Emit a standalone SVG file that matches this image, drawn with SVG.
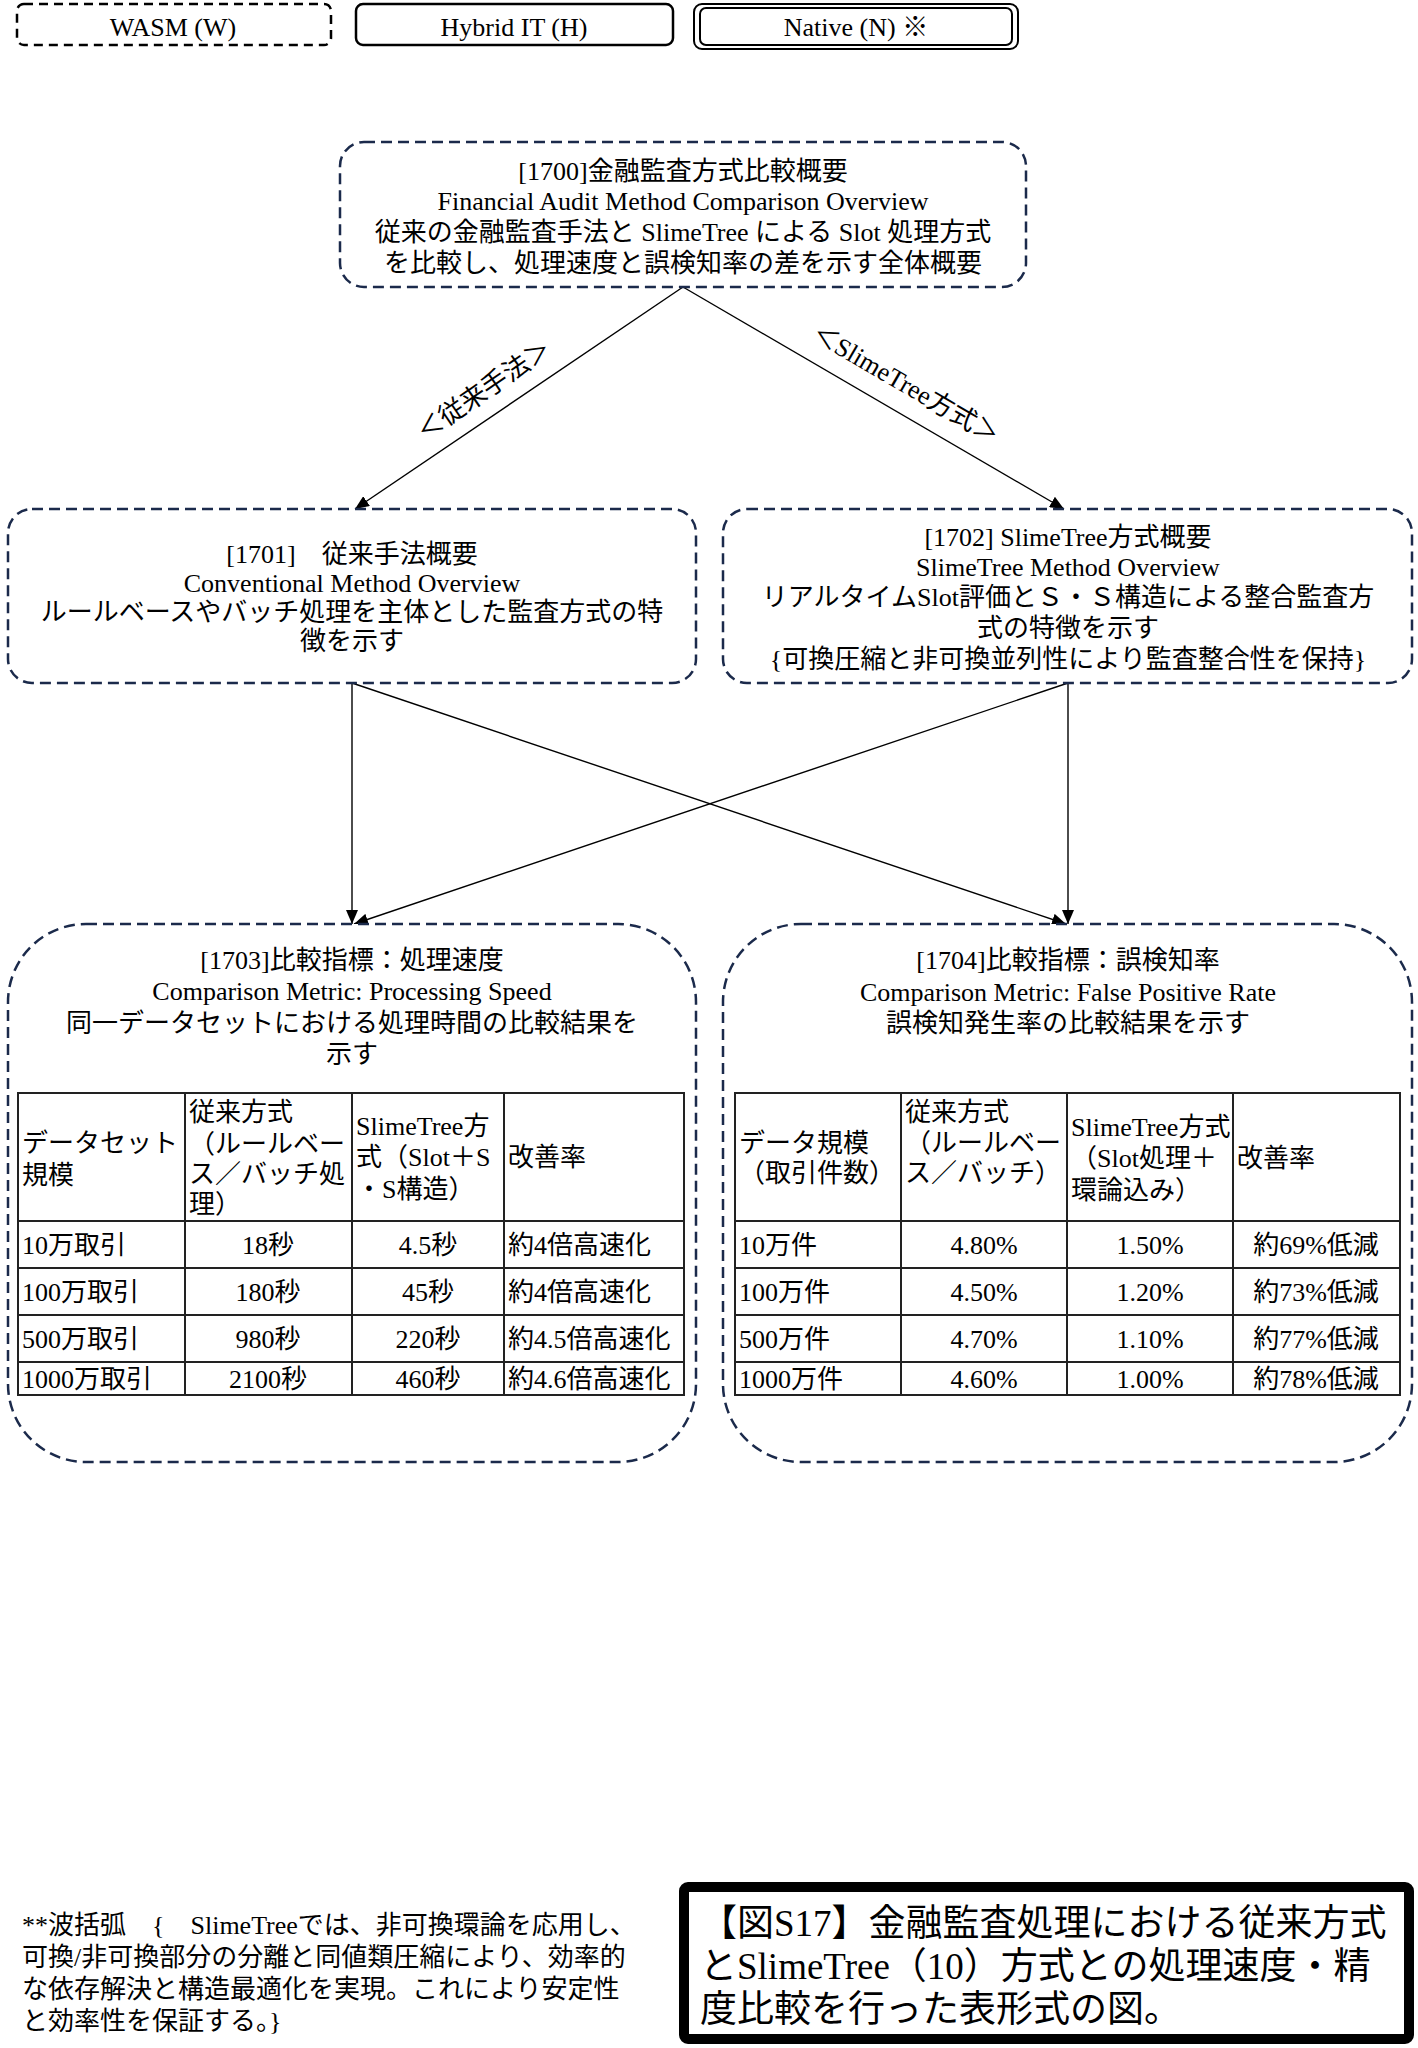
<svg xmlns="http://www.w3.org/2000/svg" width="1418" height="2048" viewBox="0 0 1418 2048">
<style>
.t{font-family:"Liberation Serif","Noto Sans CJK JP",serif;font-size:26px;fill:#000}
.c{text-anchor:middle}
.node{fill:#fff;stroke:#1b2a4b;stroke-width:2.5;stroke-dasharray:11 6}
.conn{stroke:#000;stroke-width:1.4;fill:none;marker-end:url(#arr)}
.tbl{stroke:#222;stroke-width:2;fill:none}
.cap{font-size:37px}
</style>
<defs>
<marker id="arr" markerUnits="userSpaceOnUse" markerWidth="14" markerHeight="12" viewBox="0 0 14 12" refX="14" refY="6" orient="auto">
<path d="M0,0 L14,6 L0,12 z" fill="#000"/>
</marker>
</defs>
<rect width="1418" height="2048" fill="#fff"/>

<g id="legend">
<rect x="17" y="4" width="314" height="41" rx="7" fill="#fff" stroke="#000" stroke-width="2.5" stroke-dasharray="9 6"/>
<text class="t c" x="173" y="36">WASM (W)</text>
<rect x="356" y="4" width="317" height="41" rx="7" fill="#fff" stroke="#000" stroke-width="2.5"/>
<text class="t c" x="514" y="36">Hybrid IT (H)</text>
<rect x="694" y="4" width="324" height="45" rx="8" fill="#fff" stroke="#000" stroke-width="2"/>
<rect x="700" y="8" width="312" height="37" rx="6" fill="none" stroke="#000" stroke-width="2"/>
<text class="t c" x="856" y="36">Native (N) ※</text>
</g>

<g id="connectors">
<line class="conn" x1="683" y1="287" x2="355" y2="509"/>
<line class="conn" x1="683" y1="287" x2="1064" y2="509"/>
<line class="conn" x1="352" y1="683" x2="352" y2="924"/>
<line class="conn" x1="352" y1="683" x2="1066" y2="924"/>
<line class="conn" x1="1068" y1="683" x2="1068" y2="924"/>
<line class="conn" x1="1068" y1="683" x2="354" y2="924"/>
<text class="t c" transform="translate(484,390) rotate(-34.5)" y="9">＜従来手法＞</text>
<text class="t c" transform="translate(906,384) rotate(30.2)" y="9">＜SlimeTree方式＞</text>
</g>

<g id="n1700">
<rect class="node" x="340" y="142" width="686" height="145" rx="24"/>
<text class="t c" x="683" y="180">[1700]金融監査方式比較概要</text>
<text class="t c" x="683" y="210">Financial Audit Method Comparison Overview</text>
<text class="t c" x="683" y="241">従来の金融監査手法と SlimeTree による Slot 処理方式</text>
<text class="t c" x="683" y="272">を比較し、処理速度と誤検知率の差を示す全体概要</text>
</g>

<g id="n1701">
<rect class="node" x="8" y="509" width="688" height="174" rx="24"/>
<text class="t c" x="352" y="563">[1701]　従来手法概要</text>
<text class="t c" x="352" y="592">Conventional Method Overview</text>
<text class="t c" x="352" y="621">ルールベースやバッチ処理を主体とした監査方式の特</text>
<text class="t c" x="352" y="650">徴を示す</text>
</g>

<g id="n1702">
<rect class="node" x="723" y="509" width="689" height="174" rx="24"/>
<text class="t c" x="1068" y="546">[1702] SlimeTree方式概要</text>
<text class="t c" x="1068" y="576">SlimeTree Method Overview</text>
<text class="t c" x="1068" y="606">リアルタイムSlot評価とＳ・Ｓ構造による整合監査方</text>
<text class="t c" x="1068" y="637">式の特徴を示す</text>
<text class="t c" x="1068" y="668">{可換圧縮と非可換並列性により監査整合性を保持}</text>
</g>

<g id="n1703">
<rect class="node" x="8" y="924" width="688" height="538" rx="78"/>
<text class="t c" x="352" y="969">[1703]比較指標：処理速度</text>
<text class="t c" x="352" y="1000">Comparison Metric: Processing Speed</text>
<text class="t c" x="352" y="1032">同一データセットにおける処理時間の比較結果を</text>
<text class="t c" x="352" y="1063">示す</text>
<rect class="tbl" x="18" y="1093" width="666" height="302"/>
<path class="tbl" d="M18,1221H684M18,1268H684M18,1315H684M18,1362H684M185,1093V1395M352,1093V1395M504,1093V1395"/>
<text class="t" x="22" y="1152">データセット</text>
<text class="t" x="22" y="1184">規模</text>
<text class="t" x="189" y="1121">従来方式</text>
<text class="t" x="189" y="1153">（ルールベー</text>
<text class="t" x="189" y="1183">ス／バッチ処</text>
<text class="t" x="189" y="1213">理）</text>
<text class="t" x="356" y="1135">SlimeTree方</text>
<text class="t" x="356" y="1166">式（Slot＋S</text>
<text class="t" x="356" y="1198">・S構造）</text>
<text class="t" x="508" y="1166">改善率</text>
<text class="t" x="22" y="1254">10万取引</text>
<text class="t c" x="268" y="1254">18秒</text>
<text class="t c" x="428" y="1254">4.5秒</text>
<text class="t" x="508" y="1254">約4倍高速化</text>
<text class="t" x="22" y="1301">100万取引</text>
<text class="t c" x="268" y="1301">180秒</text>
<text class="t c" x="428" y="1301">45秒</text>
<text class="t" x="508" y="1301">約4倍高速化</text>
<text class="t" x="22" y="1348">500万取引</text>
<text class="t c" x="268" y="1348">980秒</text>
<text class="t c" x="428" y="1348">220秒</text>
<text class="t" x="508" y="1348">約4.5倍高速化</text>
<text class="t" x="22" y="1388">1000万取引</text>
<text class="t c" x="268" y="1388">2100秒</text>
<text class="t c" x="428" y="1388">460秒</text>
<text class="t" x="508" y="1388">約4.6倍高速化</text>
</g>

<g id="n1704">
<rect class="node" x="723" y="924" width="689" height="538" rx="78"/>
<text class="t c" x="1068" y="969">[1704]比較指標：誤検知率</text>
<text class="t c" x="1068" y="1001">Comparison Metric: False Positive Rate</text>
<text class="t c" x="1068" y="1032">誤検知発生率の比較結果を示す</text>
<rect class="tbl" x="735" y="1093" width="665" height="302"/>
<path class="tbl" d="M735,1221H1400M735,1268H1400M735,1315H1400M735,1362H1400M901,1093V1395M1067,1093V1395M1233,1093V1395"/>
<text class="t" x="739" y="1152">データ規模</text>
<text class="t" x="739" y="1182">（取引件数）</text>
<text class="t" x="905" y="1121">従来方式</text>
<text class="t" x="905" y="1152">（ルールベー</text>
<text class="t" x="905" y="1182">ス／バッチ）</text>
<text class="t" x="1071" y="1136">SlimeTree方式</text>
<text class="t" x="1071" y="1167">（Slot処理＋</text>
<text class="t" x="1071" y="1199">環論込み）</text>
<text class="t" x="1237" y="1167">改善率</text>
<text class="t" x="739" y="1254">10万件</text>
<text class="t c" x="984" y="1254">4.80%</text>
<text class="t c" x="1150" y="1254">1.50%</text>
<text class="t c" x="1316" y="1254">約69%低減</text>
<text class="t" x="739" y="1301">100万件</text>
<text class="t c" x="984" y="1301">4.50%</text>
<text class="t c" x="1150" y="1301">1.20%</text>
<text class="t c" x="1316" y="1301">約73%低減</text>
<text class="t" x="739" y="1348">500万件</text>
<text class="t c" x="984" y="1348">4.70%</text>
<text class="t c" x="1150" y="1348">1.10%</text>
<text class="t c" x="1316" y="1348">約77%低減</text>
<text class="t" x="739" y="1388">1000万件</text>
<text class="t c" x="984" y="1388">4.60%</text>
<text class="t c" x="1150" y="1388">1.00%</text>
<text class="t c" x="1316" y="1388">約78%低減</text>
</g>

<g id="footnote">
<text class="t" x="22" y="1934">**波括弧　{　SlimeTreeでは、非可換環論を応用し、</text>
<text class="t" x="22" y="1966">可換/非可換部分の分離と同値類圧縮により、効率的</text>
<text class="t" x="22" y="1998">な依存解決と構造最適化を実現。これにより安定性</text>
<text class="t" x="22" y="2030">と効率性を保証する。}</text>
</g>

<g id="caption">
<rect x="684" y="1887" width="725" height="152" rx="4" fill="#fff" stroke="#000" stroke-width="10"/>
<text class="t cap" x="700" y="1936">【図S17】金融監査処理における従来方式</text>
<text class="t cap" x="700" y="1979">とSlimeTree（10）方式との処理速度・精</text>
<text class="t cap" x="700" y="2022">度比較を行った表形式の図。</text>
</g>
</svg>
